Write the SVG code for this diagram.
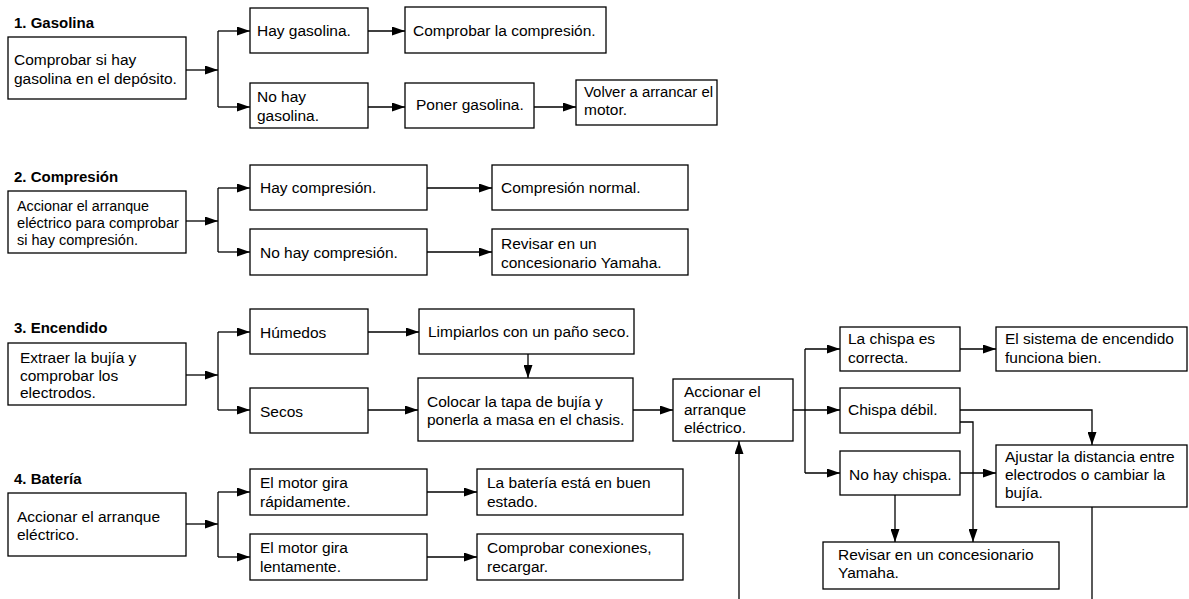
<svg xmlns="http://www.w3.org/2000/svg" width="1189" height="599" viewBox="0 0 1189 599">
<defs>
<marker id="ah" viewBox="0 0 13 9" refX="13" refY="4.5" markerWidth="13" markerHeight="9" markerUnits="userSpaceOnUse" orient="auto">
<path d="M0,0 L13,4.5 L0,9 z" fill="#000"/>
</marker>
<style>
rect{fill:#fff;stroke:#000;stroke-width:1.3}
text{font-family:"Liberation Sans",Arial,sans-serif;font-size:15.5px;fill:#000}
text.h{font-weight:bold;font-size:15px}
.c path{fill:none;stroke:#000;stroke-width:1.3}
.c path.a{marker-end:url(#ah)}
</style>
</defs>
<rect x="0" y="0" width="1189" height="599" style="fill:#fff;stroke:none"/>
<g class="c" id="connectors">
<path class="a" d="M186,70H218"/>
<path d="M218,31V107"/>
<path class="a" d="M218,31H250"/>
<path class="a" d="M218,107H250"/>
<path class="a" d="M368,31H405"/>
<path class="a" d="M368,107H405"/>
<path class="a" d="M534,107H576"/>
<path class="a" d="M186,221H218"/>
<path d="M218,188V252"/>
<path class="a" d="M218,188H250"/>
<path class="a" d="M218,252H250"/>
<path class="a" d="M427,188H492"/>
<path class="a" d="M427,252H492"/>
<path class="a" d="M186,375H218"/>
<path d="M218,332V410"/>
<path class="a" d="M218,332H250"/>
<path class="a" d="M218,410H250"/>
<path class="a" d="M368,332H419"/>
<path class="a" d="M368,410H418"/>
<path class="a" d="M528,354V378"/>
<path class="a" d="M633,410H673"/>
<path class="a" d="M793,410H840"/>
<path d="M805,349V473"/>
<path class="a" d="M805,349H840"/>
<path class="a" d="M805,473H840"/>
<path class="a" d="M960,349H996"/>
<path class="a" d="M960,410H1092V445"/>
<path class="a" d="M960,422H973V542"/>
<path class="a" d="M960,473H996"/>
<path class="a" d="M895,495V542"/>
<path d="M1092,507V599"/>
<path class="a" d="M739,599V441"/>
<path class="a" d="M186,524H218"/>
<path d="M218,492V557"/>
<path class="a" d="M218,492H250"/>
<path class="a" d="M218,557H250"/>
<path class="a" d="M427,492H477"/>
<path class="a" d="M427,557H477"/>
</g>
<g id="h1"><text class="h" x="14" y="28">1. Gasolina</text></g>
<g id="n1a"><rect x="8" y="37" width="178" height="62"/><text x="14" y="65">Comprobar si hay</text><text x="14" y="84">gasolina en el depósito.</text></g>
<g id="n1b"><rect x="250" y="8" width="118" height="45"/><text x="257" y="36">Hay gasolina.</text></g>
<g id="n1c"><rect x="250" y="83" width="118" height="45"/><text x="257" y="102">No hay</text><text x="257" y="121">gasolina.</text></g>
<g id="n1d"><rect x="405" y="7" width="201" height="46"/><text x="413" y="36">Comprobar la compresión.</text></g>
<g id="n1e"><rect x="405" y="83" width="129" height="45"/><text x="416" y="110">Poner gasolina.</text></g>
<g id="n1f"><rect x="576" y="80" width="141" height="45"/><text x="584" y="97" textLength="129" lengthAdjust="spacingAndGlyphs">Volver a arrancar el</text><text x="584" y="115">motor.</text></g>
<g id="h2"><text class="h" x="14" y="182">2. Compresión</text></g>
<g id="n2a"><rect x="8" y="191" width="178" height="62"/><text x="17" y="211" textLength="132" lengthAdjust="spacingAndGlyphs">Accionar el arranque</text><text x="17" y="228" textLength="162" lengthAdjust="spacingAndGlyphs">eléctrico para comprobar</text><text x="17" y="245" textLength="121" lengthAdjust="spacingAndGlyphs">si hay compresión.</text></g>
<g id="n2b"><rect x="250" y="165" width="177" height="45"/><text x="260" y="193">Hay compresión.</text></g>
<g id="n2c"><rect x="250" y="229" width="177" height="46"/><text x="260" y="258">No hay compresión.</text></g>
<g id="n2d"><rect x="492" y="165" width="196" height="45"/><text x="501" y="193">Compresión normal.</text></g>
<g id="n2e"><rect x="492" y="229" width="196" height="46"/><text x="501" y="249">Revisar en un</text><text x="501" y="268">concesionario Yamaha.</text></g>
<g id="h3"><text class="h" x="14" y="333">3. Encendido</text></g>
<g id="n3a"><rect x="8" y="343" width="178" height="62"/><text x="20" y="363">Extraer la bujía y</text><text x="20" y="381">comprobar los</text><text x="20" y="398">electrodos.</text></g>
<g id="n3b"><rect x="250" y="309" width="118" height="45"/><text x="260" y="338">Húmedos</text></g>
<g id="n3c"><rect x="250" y="388" width="118" height="45"/><text x="260" y="417">Secos</text></g>
<g id="n3d"><rect x="419" y="309" width="215" height="45"/><text x="428" y="337">Limpiarlos con un paño seco.</text></g>
<g id="n3e"><rect x="418" y="378" width="215" height="63"/><text x="427" y="407">Colocar la tapa de bujía y</text><text x="427" y="425">ponerla a masa en el chasis.</text></g>
<g id="n3f"><rect x="673" y="379" width="120" height="62"/><text x="684" y="397">Accionar el</text><text x="684" y="415">arranque</text><text x="684" y="433">eléctrico.</text></g>
<g id="n3g"><rect x="840" y="327" width="120" height="44"/><text x="848" y="344">La chispa es</text><text x="848" y="363">correcta.</text></g>
<g id="n3h"><rect x="996" y="327" width="191" height="44"/><text x="1005" y="344">El sistema de encendido</text><text x="1005" y="363">funciona bien.</text></g>
<g id="n3i"><rect x="840" y="388" width="120" height="45"/><text x="848" y="415">Chispa débil.</text></g>
<g id="n3j"><rect x="840" y="451" width="120" height="44"/><text x="849" y="480">No hay chispa.</text></g>
<g id="n3k"><rect x="996" y="445" width="191" height="62"/><text x="1005" y="462">Ajustar la distancia entre</text><text x="1005" y="480">electrodos o cambiar la</text><text x="1005" y="498">bujía.</text></g>
<g id="n3l"><rect x="823" y="542" width="236" height="47"/><text x="838" y="560">Revisar en un concesionario</text><text x="838" y="578">Yamaha.</text></g>
<g id="h4"><text class="h" x="14" y="484">4. Batería</text></g>
<g id="n4a"><rect x="8" y="493" width="178" height="63"/><text x="17" y="522">Accionar el arranque</text><text x="17" y="540">eléctrico.</text></g>
<g id="n4b"><rect x="250" y="469" width="177" height="46"/><text x="260" y="488">El motor gira</text><text x="260" y="507">rápidamente.</text></g>
<g id="n4c"><rect x="250" y="534" width="177" height="46"/><text x="260" y="553">El motor gira</text><text x="260" y="572">lentamente.</text></g>
<g id="n4d"><rect x="477" y="469" width="206" height="46"/><text x="487" y="488">La batería está en buen</text><text x="487" y="507">estado.</text></g>
<g id="n4e"><rect x="477" y="534" width="206" height="46"/><text x="487" y="553">Comprobar conexiones,</text><text x="487" y="572">recargar.</text></g>
</svg>
